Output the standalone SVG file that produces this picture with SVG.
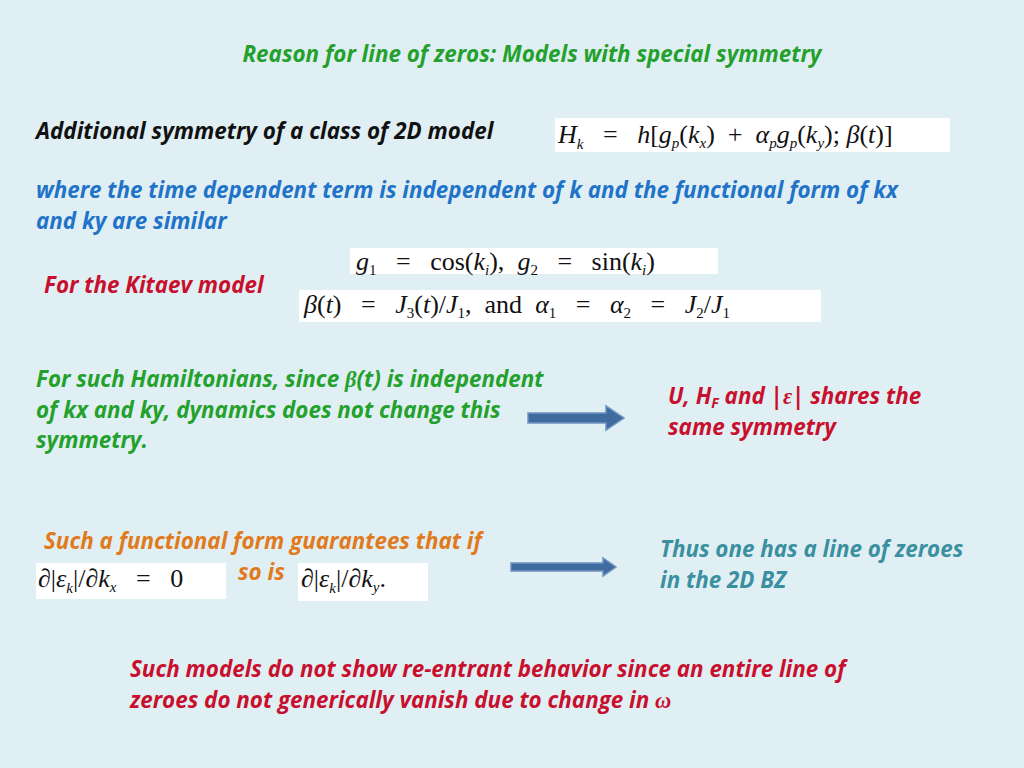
<svg xmlns="http://www.w3.org/2000/svg" width="1024" height="768" viewBox="0 0 1024 768">
<style>
.t{font-family:"Open Sans","Liberation Sans",sans-serif;font-weight:bold;font-style:italic;font-size:22.4px}
.m{font-family:"Liberation Serif",serif;font-size:26px;fill:#111}
.mi{font-style:italic}
.box{fill:#fff}
.arr{fill:#3f6b9e;stroke:#6f94c2;stroke-width:1.5}
</style>
<rect width="1024" height="768" fill="#e0eff3"/>
<text class="t" x="532" y="62" text-anchor="middle" fill="#23a12c">Reason for line of zeros: Models with special symmetry</text>
<text class="t" x="36" y="139" fill="#111">Additional symmetry of a class of 2D model</text>
<g id="eq1"><rect class="box" x="555" y="118" width="395" height="34"/>
<text class="m" xml:space="preserve" x="558" y="143"><tspan class="mi">H</tspan><tspan font-size="15" dy="6" class="mi">k</tspan><tspan dy="-6">   =   </tspan><tspan class="mi">h</tspan>[<tspan class="mi">g</tspan><tspan font-size="15" dy="5" class="mi">p</tspan><tspan dy="-5">(</tspan><tspan class="mi">k</tspan><tspan font-size="15" dy="5" class="mi">x</tspan><tspan dy="-5">)  +  </tspan><tspan class="mi">α</tspan><tspan font-size="15" dy="5" class="mi">p</tspan><tspan dy="-5" class="mi">g</tspan><tspan font-size="15" dy="5" class="mi">p</tspan><tspan dy="-5">(</tspan><tspan class="mi">k</tspan><tspan font-size="15" dy="5" class="mi">y</tspan><tspan dy="-5">); </tspan><tspan class="mi">β</tspan>(<tspan class="mi">t</tspan>)]</text></g>
<text class="t" fill="#1f73c8"><tspan x="36" y="198">where the time dependent term is  independent of k and the functional form of kx</tspan><tspan x="36" y="229">and ky are similar</tspan></text>
<text class="t" x="44" y="293" fill="#c8102e">For the Kitaev model</text>
<g id="eq2"><rect class="box" x="350" y="248" width="368" height="26"/>
<text class="m" xml:space="preserve" x="356" y="270"><tspan class="mi">g</tspan><tspan font-size="15" dy="5">1</tspan><tspan dy="-5">   =   cos(</tspan><tspan class="mi">k</tspan><tspan font-size="15" dy="5" class="mi">i</tspan><tspan dy="-5">),  </tspan><tspan class="mi">g</tspan><tspan font-size="15" dy="5">2</tspan><tspan dy="-5">   =   sin(</tspan><tspan class="mi">k</tspan><tspan font-size="15" dy="5" class="mi">i</tspan><tspan dy="-5">)</tspan></text></g>
<g id="eq3"><rect class="box" x="299" y="290" width="522" height="32"/>
<text class="m" xml:space="preserve" x="304" y="313"><tspan class="mi">β</tspan>(<tspan class="mi">t</tspan>)   =   <tspan class="mi">J</tspan><tspan font-size="15" dy="5">3</tspan><tspan dy="-5">(</tspan><tspan class="mi">t</tspan>)/<tspan class="mi">J</tspan><tspan font-size="15" dy="5">1</tspan><tspan dy="-5">,  and  </tspan><tspan class="mi">α</tspan><tspan font-size="15" dy="5">1</tspan><tspan dy="-5">   =   </tspan><tspan class="mi">α</tspan><tspan font-size="15" dy="5">2</tspan><tspan dy="-5">   =   </tspan><tspan class="mi">J</tspan><tspan font-size="15" dy="5">2</tspan><tspan dy="-5">/</tspan><tspan class="mi">J</tspan><tspan font-size="15" dy="5">1</tspan></text></g>
<text class="t" fill="#23a12c"><tspan x="36" y="387">For such Hamiltonians, since </tspan><tspan font-family="Liberation Serif,serif">β</tspan><tspan>(t) is independent</tspan><tspan x="36" y="418">of kx and ky, dynamics does not change this</tspan><tspan x="36" y="448">symmetry.</tspan></text>
<g id="connectors">
<path class="arr" d="M528 413 H606 V406 L624 418 L606 430 V423 H528 Z"/>
<path class="arr" d="M511 563 H603 V558 L616 567 L603 576 V571 H511 Z"/>
</g>
<text class="t" fill="#c8102e"><tspan x="668" y="404">U, H</tspan><tspan font-size="14" dy="4">F</tspan><tspan dy="-4"> and |</tspan><tspan font-family="Liberation Serif,serif">ε</tspan><tspan>| shares the</tspan><tspan x="668" y="435">same symmetry</tspan></text>
<text class="t" x="44" y="549" fill="#e07a1c">Such a functional form guarantees that if</text>
<g id="eq4"><rect class="box" x="36" y="563" width="190" height="36"/>
<text class="m" xml:space="preserve" x="38" y="587">∂|<tspan class="mi">ε</tspan><tspan font-size="15" dy="6" class="mi">k</tspan><tspan dy="-6">|/∂</tspan><tspan class="mi">k</tspan><tspan font-size="15" dy="5" class="mi">x</tspan><tspan dy="-5">   =   0</tspan></text></g>
<text class="t" x="238" y="580" fill="#e07a1c">so is</text>
<g id="eq5"><rect class="box" x="298" y="563" width="130" height="38"/>
<text class="m" xml:space="preserve" x="301" y="587">∂|<tspan class="mi">ε</tspan><tspan font-size="15" dy="6" class="mi">k</tspan><tspan dy="-6">|/∂</tspan><tspan class="mi">k</tspan><tspan font-size="15" dy="5" class="mi">y</tspan><tspan dy="-5">.</tspan></text></g>
<text class="t" fill="#3a8fa0"><tspan x="660" y="557">Thus one has a line of zeroes</tspan><tspan x="660" y="588">in the 2D BZ</tspan></text>
<text class="t" fill="#c8102e"><tspan x="130" y="677">Such models do not show re-entrant behavior since an entire line of</tspan><tspan x="130" y="708">zeroes do not generically vanish due to change in </tspan><tspan font-family="Liberation Serif,serif">ω</tspan></text>
</svg>
